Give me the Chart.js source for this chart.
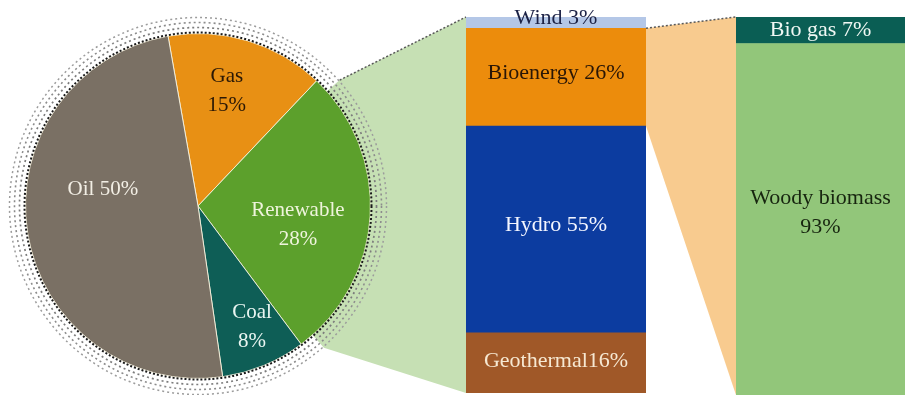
<!DOCTYPE html>
<html>
<head>
<meta charset="utf-8">
<script src="https://cdn.jsdelivr.net/npm/chart.js@4.4.0/dist/chart.umd.min.js"></script>
<style>
    html, body { margin: 0; padding: 0; background: #ffffff; }
    #wrap { position: relative; width: 905px; height: 395px; overflow: hidden; }
    #wrap canvas { position: absolute; }
</style>
</head>
<body>
<div id="wrap">
    <canvas id="links" width="905" height="395" style="left:0;top:0"></canvas>
    <canvas id="pie" width="396" height="392" style="left:0;top:10px"></canvas>
    <canvas id="mix" width="180" height="395" style="left:466px;top:0"></canvas>
    <canvas id="bio" width="169" height="395" style="left:736px;top:0"></canvas>
</div>
<script>
// Energy mix (pie), clockwise from the top
const pieNames = ['Gas', 'Renewable', 'Coal', 'Oil'];
const pieValues = [15, 28, 8, 50];
const pieLabels = [['Gas', '15%'], ['Renewable', '28%'], ['Coal', '8%'], ['Oil 50%']];

// Renewable split (stacked from the bottom up)
const mixNames = ['Geothermal', 'Hydro', 'Bioenergy', 'Wind'];
const mixValues = [16, 55, 26, 3];
const mixLabels = [['Geothermal16%'], ['Hydro 55%'], ['Bioenergy 26%'], ['Wind 3%']];

// Bioenergy split (stacked from the bottom up)
const bioNames = ['Woody biomass', 'Bio gas'];
const bioValues = [93, 7];
const bioLabels = [['Woody biomass', '93%'], ['Bio gas 7%']];

// styling
const FONT = '"Liberation Serif", "DejaVu Serif", serif';
const pieColors = ['#e89014', '#5ca02c', '#0e5e56', '#7a7064'];
const pieText = ['#2a1806', '#eef4dc', '#eaf6f2', '#f2eee4'];
// label spot per slice: [fraction of radius, degrees clockwise from top]
const piePos = [[0.69, 14], [0.59, 101], [0.77, 156], [0.56, 280]];
const mixColors = ['#a05828', '#0c3ca0', '#ec8c0c', '#b4c7e7'];
const mixText = ['#f6e8d2', '#f4f6ff', '#2a1606', '#1c2246'];
const mixShift = [-2, -4, -4, -4];
const bioColors = ['#92c67a', '#0a5e54'];
const bioText = ['#17250f', '#f0f8f4'];
const bioShift = [-7, 0];
const LINE_H = 29;

function drawLines(ctx, lines, x, y, color, size) {
    ctx.save();
    ctx.font = size + 'px ' + FONT;
    ctx.fillStyle = color;
    ctx.textAlign = 'center';
    ctx.textBaseline = 'middle';
    const top = y - (lines.length - 1) * LINE_H / 2;
    lines.forEach((t, i) => ctx.fillText(t, x, top + i * LINE_H));
    ctx.restore();
}

// dotted rings round the pie plus slice labels
const pieExtras = {
    id: 'pieExtras',
    afterDatasetsDraw(chart) {
        const ctx = chart.ctx;
        const arcs = chart.getDatasetMeta(0).data;
        const cx = arcs[0].x, cy = arcs[0].y, R = arcs[0].outerRadius;
        const rings = [[1, '#1a1a1a', 2, [2, 2]], [6, '#7c7c7c', 1.7, [2, 3]],
                       [11, '#8c8c8c', 1.6, [2, 3]], [16, '#9c9c9c', 1.5, [2, 3]]];
        rings.forEach(([d, col, lw, dash]) => {
            ctx.save();
            ctx.beginPath();
            ctx.setLineDash(dash);
            ctx.strokeStyle = col;
            ctx.lineWidth = lw;
            ctx.arc(cx, cy, R + d, 0, Math.PI * 2);
            ctx.stroke();
            ctx.restore();
        });
        pieLabels.forEach((lines, i) => {
            const a = piePos[i][1] * Math.PI / 180;
            const r = piePos[i][0] * R;
            drawLines(ctx, lines, cx + r * Math.sin(a), cy - r * Math.cos(a), pieText[i], 21);
        });
    }
};

// text centred in each stacked segment
function segmentLabels(labels, textColors, shifts) {
    return {
        id: 'segLabels',
        afterDatasetsDraw(chart) {
            labels.forEach((lines, i) => {
                const bar = chart.getDatasetMeta(i).data[0];
                const y = (bar.y + bar.base) / 2 + shifts[i];
                drawLines(chart.ctx, lines, bar.x, y, textColors[i], 22);
            });
        }
    };
}

const pieChart = new Chart(document.getElementById('pie'), {
    type: 'pie',
    data: {
        labels: pieNames,
        datasets: [{
            data: pieValues,
            backgroundColor: pieColors,
            borderColor: 'rgba(250,246,225,0.85)',
            borderWidth: 1
        }]
    },
    options: {
        responsive: false,
        animation: false,
        rotation: -10,
        layout: { padding: 23 },
        plugins: { legend: { display: false }, tooltip: { enabled: false } }
    },
    plugins: [pieExtras]
});

function stackedOptions(padTop, padBottom) {
    return {
        responsive: false,
        animation: false,
        layout: { padding: { top: padTop, bottom: padBottom, left: 0, right: 0 } },
        plugins: { legend: { display: false }, tooltip: { enabled: false } },
        scales: {
            x: { display: false, stacked: true },
            y: { display: false, stacked: true, min: 0, max: 100 }
        }
    };
}

function stackedSets(names, values, colors) {
    return names.map((n, i) => ({
        label: n,
        data: [values[i]],
        backgroundColor: colors[i],
        borderWidth: 0,
        barPercentage: 1,
        categoryPercentage: 1
    }));
}

const mixChart = new Chart(document.getElementById('mix'), {
    type: 'bar',
    data: { labels: ['Renewable'], datasets: stackedSets(mixNames, mixValues, mixColors) },
    options: stackedOptions(17, 2),
    plugins: [segmentLabels(mixLabels, mixText, mixShift)]
});

const bioChart = new Chart(document.getElementById('bio'), {
    type: 'bar',
    data: { labels: ['Bioenergy'], datasets: stackedSets(bioNames, bioValues, bioColors) },
    options: stackedOptions(17, 0),
    plugins: [segmentLabels(bioLabels, bioText, bioShift)]
});

// connector shapes behind the charts, taken from the drawn elements
function drawLinks() {
    const ctx = document.getElementById('links').getContext('2d');
    const pieTop = 10, mixLeft = 466, bioLeft = 736;

    const ren = pieChart.getDatasetMeta(0).data[1];
    const cx = ren.x, cy = ren.y + pieTop, R = ren.outerRadius + 17;
    const mid = (ren.startAngle + ren.endAngle) / 2;
    const a1 = mid - Math.PI / 4, a2 = mid + Math.PI / 4;
    const p1 = [cx + R * Math.cos(a1), cy + R * Math.sin(a1)];
    const p4 = [cx + R * Math.cos(a2), cy + R * Math.sin(a2)];

    const wind = mixChart.getDatasetMeta(3).data[0];
    const geo = mixChart.getDatasetMeta(0).data[0];
    const bioE = mixChart.getDatasetMeta(2).data[0];
    const mL = mixLeft + wind.x - wind.width / 2;
    const mR = mixLeft + wind.x + wind.width / 2;

    ctx.fillStyle = '#c6e0b4';
    ctx.beginPath();
    ctx.moveTo(cx, cy);
    ctx.lineTo(p1[0], p1[1]);
    ctx.lineTo(mL, wind.y);
    ctx.lineTo(mL, geo.base);
    ctx.lineTo(p4[0], p4[1]);
    ctx.closePath();
    ctx.fill();

    const bGas = bioChart.getDatasetMeta(1).data[0];
    const bWood = bioChart.getDatasetMeta(0).data[0];
    const bL = bioLeft + bGas.x - bGas.width / 2;

    ctx.fillStyle = '#f8cb8f';
    ctx.beginPath();
    ctx.moveTo(mR, bioE.y);
    ctx.lineTo(bL, bGas.y);
    ctx.lineTo(bL, bWood.base);
    ctx.lineTo(mR, bioE.base);
    ctx.closePath();
    ctx.fill();

    ctx.save();
    ctx.setLineDash([2, 2]);
    ctx.strokeStyle = '#5a5a5a';
    ctx.lineWidth = 1.5;
    ctx.beginPath();
    ctx.moveTo(p1[0], p1[1]);
    ctx.lineTo(mL, wind.y);
    ctx.moveTo(mR, bioE.y);
    ctx.lineTo(bL, bGas.y);
    ctx.stroke();
    ctx.restore();
}
drawLinks();
</script>
</body>
</html>
